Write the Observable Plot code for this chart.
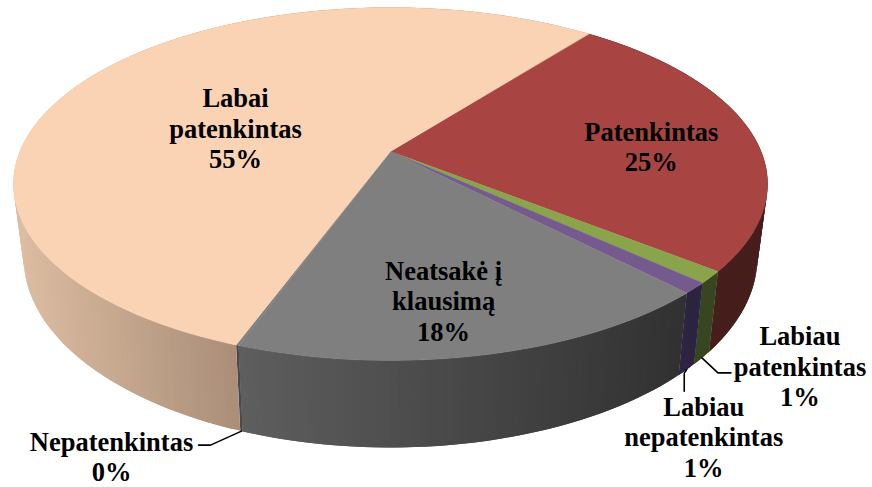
<!DOCTYPE html>
<html>
<head>
<meta charset="utf-8">
<style>
html,body{margin:0;padding:0;background:#fff;}
svg{display:block;}
</style>
<script src="https://cdn.jsdelivr.net/npm/d3@7"></script>
<script src="https://cdn.jsdelivr.net/npm/@observablehq/plot@0.6"></script>
</head>
<body>
<div id="chart"></div>
<script>
// ---- data, clockwise from the first slice edge ----
const categories = ["Patenkintas","Labiau\npatenkintas","Labiau\nnepatenkintas","Neatsakė į\nklausimą","Nepatenkintas","Labai\npatenkintas"];
const shares = [25.2, 1.1, 1.0, 17.7, 0.1, 54.9];
// ---- styles ----
const topColors = ["#A84442","#8AA44C","#755A8E","#7F7F7F","#7F7F7F","#FAD3B4"];
const wallStart = ["#461E1C","#38461F","#2C2440","#5E5E5E","#4A4A4A","#DDBDA2"];
const wallEnd   = ["#461E1C","#38461F","#2C2440","#313131","#4A4A4A","#AA8E78"];
// ---- layout ----
const W = 872, H = 487, FONT = 26.5;
const startAngle = 37.8;
const view = {cx:390, cy:151, A:370.6, B:170.5, k:0.1841, drop:71, depth:0.973};
const labelOffset = [ // nudge from the slice's projected position
  {r:0.72, dx:0, dy:9},
  {r:1, dx:98, dy:8, below:true},
  {r:1, dx:17, dy:67, below:true},
  {r:0.6, dx:1, dy:37},
  {r:1, dx:-130, dy:25, below:true},
  {r:0.55, dx:15, dy:20}
];
const leaderBends = {1:[[16,15],[29,15]], 2:[[-2.5,3.6],[-2.5,21.6]], 4:[[-31,14],[-43,14]]};

const rad = d => d*Math.PI/180;
function project(a, r=1, bottom=false){
  const u = r*Math.sin(rad(a)), v = r*Math.cos(rad(a)), w = 1 + view.k*v;
  let x = view.cx + view.A*u/w, y = view.cy - view.B*v/w;
  if (bottom){ x = view.cx + (x-view.cx)*view.depth; y += view.drop/w; }
  return [x,y];
}
const total = d3.sum(shares);
let run = startAngle;
const slices = categories.map((name,i)=>{
  const a0 = run, a1 = run + shares[i]/total*360; run = a1;
  return {i,name,a0,a1,mid:(a0+a1)/2,pct:Math.round(shares[i]/total*100)};
});

const tops = [], walls = [];
for (const s of slices){
  const n = Math.max(2, Math.ceil((s.a1-s.a0)*2));
  const c = project(0,0);
  tops.push({id:s.i,color:topColors[s.i],x:c[0],y:c[1]});
  for (let j=0;j<=n;j++){ const p = project(s.a0+(s.a1-s.a0)*j/n); tops.push({id:s.i,color:topColors[s.i],x:p[0],y:p[1]}); }
  // wall strips, shaded left to right across the visible front; each overlaps the next to hide seams
  const m = Math.max(1, Math.ceil(s.a1-s.a0));
  const xs = d3.range(m+1).map(j=>{const a=s.a0+(s.a1-s.a0)*j/m;return {a,x:project(a)[0],v:Math.cos(rad(a))};});
  const vis = xs.filter(d=>d.v<0.25);
  const ext = d3.extent(vis.length?vis:xs,d=>d.x);
  const ramp = d3.interpolateRgb(wallStart[s.i],wallEnd[s.i]);
  for (let j=0;j<m;j++){
    const a=xs[j].a,b=xs[Math.min(j+2,m)].a;
    const t=Math.max(0,Math.min(1,((xs[j].x+xs[j+1].x)/2-ext[0])/((ext[1]-ext[0])||1)));
    const color=ramp(t), id=`${s.i}-${String(j).padStart(3,"0")}`;
    for (const p of [project(a),project(b),project(b,1,true),project(a,1,true)]) walls.push({id,color,x:p[0],y:p[1]});
  }
}

const labels = slices.map((s,i)=>{
  const o = labelOffset[i], p = project(s.mid,o.r,!!o.below);
  return {text:`${s.name}\n${s.pct}%`,x:p[0]+o.dx,y:p[1]+o.dy};
});
const leaders = [];
for (const k of Object.keys(leaderBends)){
  const s = slices[k], p = project(s.mid,1,true);
  leaders.push({id:k,x:p[0],y:p[1]});
  for (const [dx,dy] of leaderBends[k]) leaders.push({id:k,x:p[0]+dx,y:p[1]+dy});
}
const poly = (d,sw) => Plot.line(d,{x:"x",y:"y",z:"id",fill:{value:"color",scale:null},stroke:sw?{value:"color",scale:null}:"none",strokeWidth:sw||0,curve:"linear-closed"});

const chart = Plot.plot({
  width:W,height:H,margin:0,
  x:{domain:[0,W],range:[0,W],axis:null},
  y:{domain:[0,H],range:[0,H],axis:null},
  style:{background:"#fff"},
  marks:[
    poly(walls,0),
    poly(tops,0.4),
    Plot.line(leaders,{x:"x",y:"y",z:"id",stroke:"#000",strokeWidth:1.6,curve:"linear"}),
    Plot.text(labels,{x:"x",y:"y",text:"text",fill:"#000",fontFamily:"'Liberation Serif','Times New Roman',serif",fontWeight:"bold",fontSize:FONT,lineHeight:1.15,textAnchor:"middle"})
  ]
});
document.getElementById("chart").append(chart);
</script>
</body>
</html>
